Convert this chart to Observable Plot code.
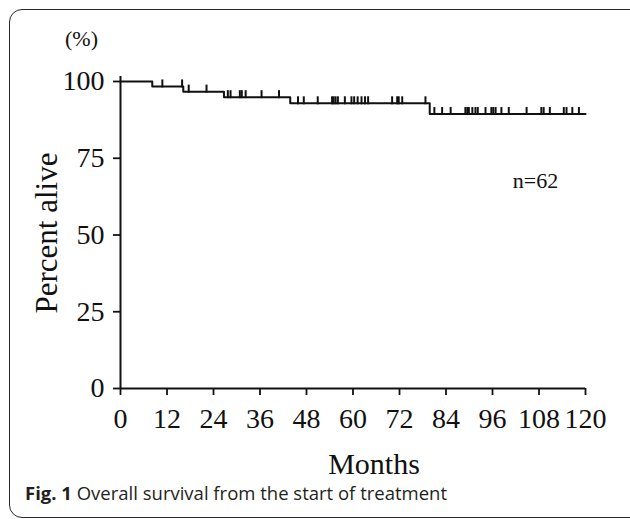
<!DOCTYPE html>
<html>
<head>
<meta charset="utf-8">
<script src="https://cdn.jsdelivr.net/npm/d3@7"></script>
<script src="https://cdn.jsdelivr.net/npm/@observablehq/plot@0.6"></script>
<style>
  html, body { margin: 0; padding: 0; background: #fff; }
  #wrap { position: relative; width: 630px; height: 519px; overflow: hidden; }
  #chart { position: absolute; left: 0; top: 0; }
  #frame { position: absolute; left: 9px; top: 9px; width: 640px; height: 509px;
           border: 1.6px solid #2a2a2a; border-radius: 13px; box-sizing: border-box; pointer-events: none; }
  #caption { position: absolute; left: 25px; top: 482px; font-family: "Open Sans", sans-serif;
             font-size: 18.5px; line-height: 22px; color: #231f20; white-space: nowrap; }
  #caption b { font-weight: 700; }
</style>
</head>
<body>
<div id="wrap">
  <div id="chart"></div>
  <div id="frame"></div>
  <div id="caption"><b>Fig. 1</b> Overall survival from the start of treatment</div>
</div>
<script>
// Kaplan–Meier step curve (event times in months, percent alive after each step)
const stepMonths   = [0, 8.2, 16.2, 26.7, 43.8, 79.8, 120];
const stepSurvival = [100, 98.4, 96.7, 94.9, 92.9, 89.4, 89.4];

// Censored observations (months)
const censorMonths = [
  10.8, 15.9,
  17.6, 22.2,
  27.7, 28.4, 30.8, 31.3, 32.3, 36.4, 40.9,
  45.8, 47.3, 50.9, 54.6, 55.0, 55.5, 56.1, 57.9, 59.6, 60.3, 61.2, 62.2, 63.1, 63.9,
  70.1, 71.4, 71.8, 72.7, 78.7,
  81.0, 83.0, 85.2, 89.0, 89.5, 89.9, 90.8, 91.6, 92.2, 94.2, 95.7, 96.2, 96.8,
  98.3, 100.2, 104.8, 108.6, 109.2, 110.8, 114.4, 115.1, 116.6, 118.3
];

const xTicks = [0, 12, 24, 36, 48, 60, 72, 84, 96, 108, 120];
const yTicks = [0, 25, 50, 75, 100];

const xTitle = "Months";
const yTitle = "Percent alive";
const yUnit = "(%)";
const nLabel = "n=62";

const steps = stepMonths.map((m, i) => ({month: m, pct: stepSurvival[i]}));
const levelAt = (m) => stepSurvival[d3.bisectRight(stepMonths, m) - 1];
const censors = censorMonths.map(m => ({month: m, pct: levelAt(m)}));

const censorSymbol = {
  draw(context, size) {
    const l = Math.sqrt(size / Math.PI);
    context.moveTo(0, 1);
    context.lineTo(0, -l);
  }
};

const serif = "'Liberation Serif', 'Times New Roman', serif";
const ink = "#111";

const plot = Plot.plot({
  width: 630,
  height: 519,
  marginLeft: 120,
  marginRight: 45,
  marginTop: 81,
  marginBottom: 131,
  style: {fontFamily: serif, fontSize: "28px", color: ink, background: "transparent"},
  x: {domain: [0, 120], ticks: xTicks},
  y: {domain: [0, 100], ticks: yTicks},
  marks: [
    Plot.axisX({ticks: xTicks, tickSize: 7, tickPadding: 13, fontSize: 28, label: null, strokeWidth: 1.8}),
    Plot.axisY({ticks: yTicks, tickSize: 7, tickPadding: 9, fontSize: 28, label: null, strokeWidth: 1.8}),
    Plot.ruleY([0], {stroke: ink, strokeWidth: 2}),
    Plot.ruleX([0], {stroke: ink, strokeWidth: 2, insetTop: -5}),
    Plot.line(steps, {x: "month", y: "pct", curve: "step-after", stroke: ink, strokeWidth: 2}),
    Plot.dot(censors, {x: "month", y: "pct", symbol: censorSymbol, r: 7, fill: "none", stroke: ink, strokeWidth: 2}),
    Plot.text([yTitle], {text: d => d, frameAnchor: "left", textAnchor: "middle", rotate: -90, dx: -73, dy: -2, fontSize: 31, fill: ink}),
    Plot.text([xTitle], {text: d => d, frameAnchor: "bottom", textAnchor: "middle", dx: 21, dy: 85, fontSize: 30, fill: ink}),
    Plot.text([yUnit], {text: d => d, frameAnchor: "top-left", textAnchor: "middle", dx: -39, dy: -51, fontSize: 22, fill: ink}),
    Plot.text([nLabel], {text: d => d, frameAnchor: "top-right", textAnchor: "middle", dx: -50, dy: 91, fontSize: 22, fill: ink})
  ]
});
document.getElementById("chart").appendChild(plot);
</script>
</body>
</html>
